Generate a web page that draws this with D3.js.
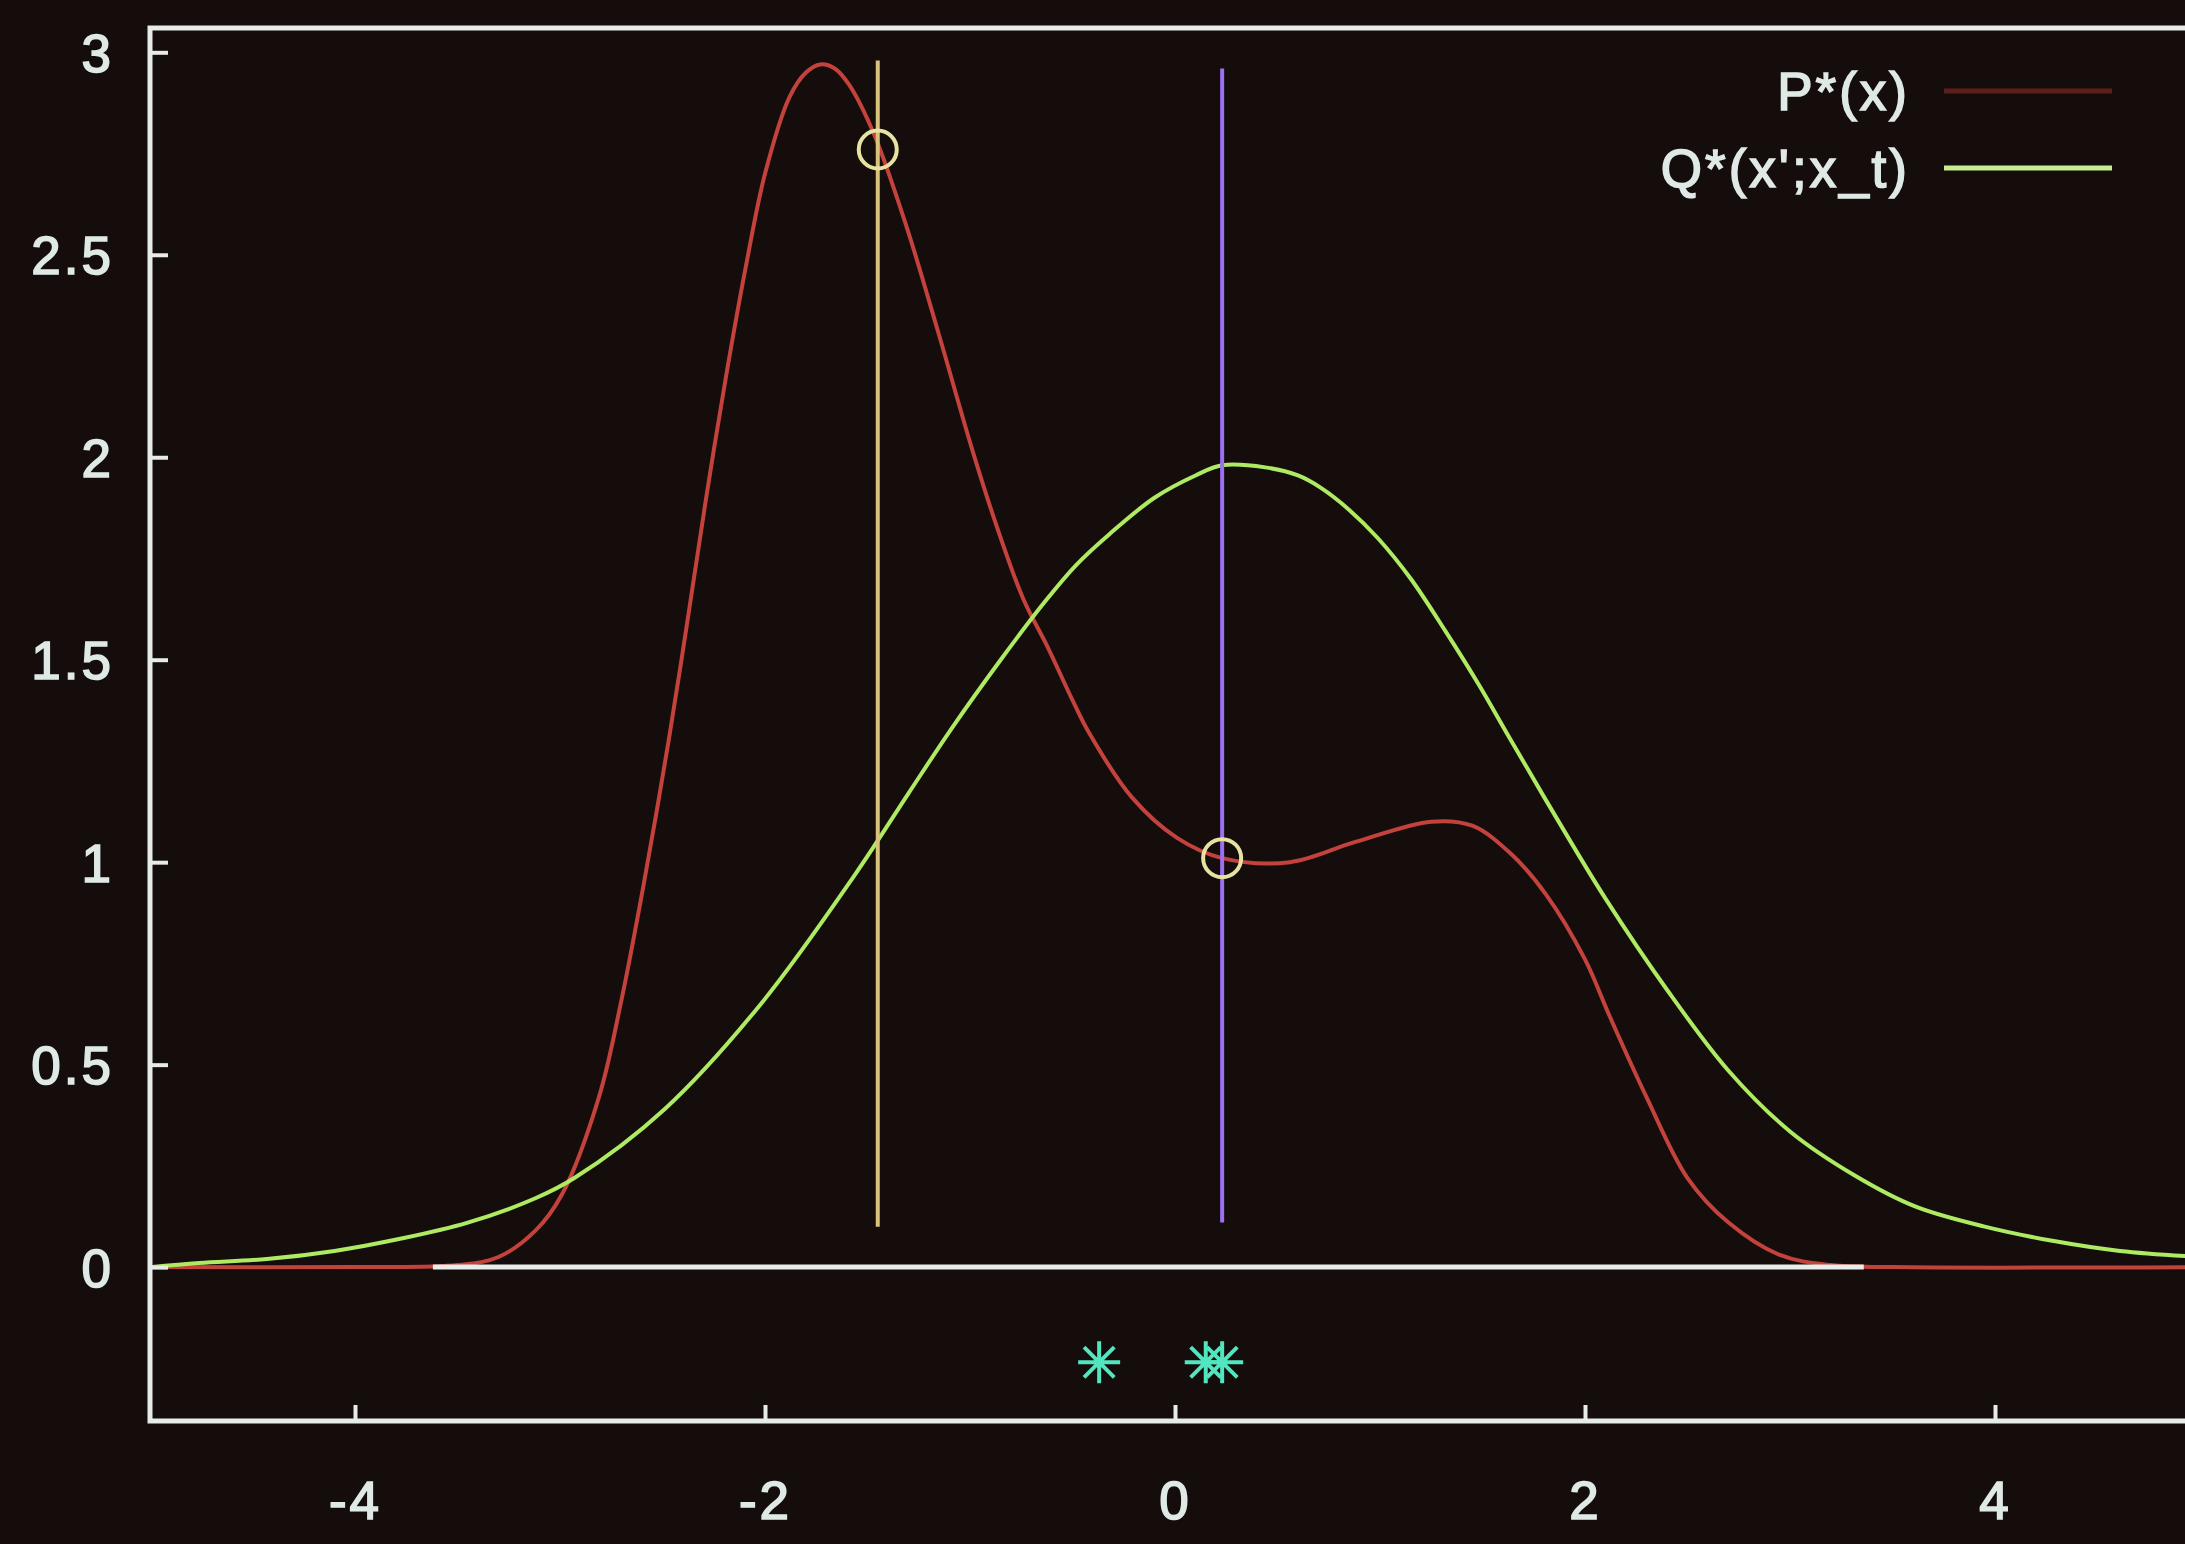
<!DOCTYPE html>
<html>
<head>
<meta charset="utf-8">
<title>P*(x) and Q*(x';x_t)</title>
<script src="https://cdn.jsdelivr.net/npm/d3@7"></script>
<style>
    html, body { margin:0; padding:0; background:#150c0c; overflow:hidden; }
    svg { display:block; }
    .lbl { font-family:"Liberation Sans", Arial, sans-serif; font-size:53px; fill:#dfe9e6;
           stroke:#dfe9e6; stroke-width:1.6px; letter-spacing:3px; }
</style>
</head>
<body>
<div id="chart"></div>
<script>
(function(){
    'use strict';

    // target density P*(x)
    var pX = [-5, -4, -3.5, -3.3, -3.12, -2.99, -2.81, -2.70, -2.59, -2.47, -2.38, -2.29, -2.19, -2.09, -2.0,
              -1.88, -1.80, -1.73, -1.66, -1.59, -1.47, -1.31, -1.15, -0.99, -0.87, -0.74, -0.62, -0.5, -0.42,
              -0.21, 0.01, 0.23, 0.56, 0.88, 1.25, 1.45, 1.64, 1.81, 2.0, 2.12, 2.3, 2.5, 2.7, 2.95, 3.2, 3.5, 5];
    var pY = [0, 0, 0.005, 0.025, 0.09, 0.18, 0.42, 0.66, 0.95, 1.30, 1.59, 1.89, 2.20, 2.48, 2.70,
              2.89, 2.95, 2.97, 2.96, 2.92, 2.80, 2.57, 2.30, 2.02, 1.83, 1.65, 1.53, 1.40, 1.32,
              1.16, 1.06, 1.01, 1.0, 1.05, 1.10, 1.09, 1.02, 0.92, 0.76, 0.62, 0.42, 0.22, 0.11, 0.03, 0.005, 0, 0];

    // proposal density Q*(x';x_t)
    var qX = [-5, -4.76, -4.43, -4.10, -3.78, -3.45, -3.12, -2.93, -2.49, -2.02, -1.56, -1.30, -1.09,
              -0.85, -0.64, -0.48, -0.32, -0.10, 0.10, 0.23, 0.44, 0.60, 0.71, 0.85, 0.99, 1.15, 1.32, 1.48,
              1.64, 1.86, 2.10, 2.4, 2.7, 3.0, 3.32, 3.61, 3.95, 4.28, 4.61, 5];
    var qY = [0, 0.01, 0.02, 0.04, 0.07, 0.11, 0.17, 0.22, 0.39, 0.65, 0.97, 1.17, 1.33,
              1.50, 1.64, 1.735, 1.81, 1.90, 1.955, 1.98, 1.975, 1.955, 1.925, 1.87, 1.80, 1.70, 1.57, 1.44,
              1.30, 1.11, 0.91, 0.685, 0.485, 0.335, 0.225, 0.15, 0.10, 0.065, 0.04, 0.025];

    // current state and proposed state (vertical lines + circles on P*)
    var markX = [-1.45, 0.23];
    var markY = [2.76, 1.01];
    var markTop = [2.98, 2.96];
    var markBottom = [0.10, 0.11];
    var markColors = ['#d9c27a', '#9c70f0'];

    // white segment along zero
    var zeroX = [-3.62, 3.36];

    // samples drawn below the axis
    var starX = [-0.37, 0.15, 0.23];
    var starY = -0.235;

    var xTicks = [-4, -2, 0, 2, 4];
    var yTicks = [0, 0.5, 1, 1.5, 2, 2.5, 3];
    var legendNames = ['P*(x)', "Q*(x';x_t)"];

    var W = 2185, H = 1544;

    var x = d3.scaleLinear().domain([-5, 5]).range([150, 2200]);
    var y = d3.scaleLinear().domain([-0.38, 3.06]).range([1421, 28]);

    var svg = d3.select('#chart').append('svg')
        .attr('width', W)
        .attr('height', H)
        .style('background', '#150c0c');

    function pts(xs, ys){
        return xs.map(function(d, i){ return [d, ys[i]]; });
    }

    var line = d3.line()
        .x(function(d){ return x(d[0]); })
        .y(function(d){ return y(d[1]); })
        .curve(d3.curveCatmullRom.alpha(0.5));

    // P*(x)
    svg.append('path')
        .datum(pts(pX, pY))
        .attr('d', line)
        .attr('fill', 'none')
        .attr('stroke', '#c4423c')
        .attr('stroke-width', 4);

    // white zero segment
    svg.append('line')
        .attr('x1', x(zeroX[0])).attr('x2', x(zeroX[1]))
        .attr('y1', y(0)).attr('y2', y(0))
        .attr('stroke', '#e9eeea')
        .attr('stroke-width', 5);

    // Q*(x';x_t)
    svg.append('path')
        .datum(pts(qX, qY))
        .attr('d', line)
        .attr('fill', 'none')
        .attr('stroke', '#aeea62')
        .attr('stroke-width', 4);

    // vertical lines at x_t and x'
    svg.selectAll('line.mark')
        .data(markX).enter()
        .append('line')
        .attr('class', 'mark')
        .attr('x1', function(d){ return x(d); })
        .attr('x2', function(d){ return x(d); })
        .attr('y1', function(d, i){ return y(markBottom[i]); })
        .attr('y2', function(d, i){ return y(markTop[i]); })
        .attr('stroke', function(d, i){ return markColors[i]; })
        .attr('stroke-width', 4);

    svg.selectAll('circle.mark')
        .data(markX).enter()
        .append('circle')
        .attr('class', 'mark')
        .attr('cx', function(d){ return x(d); })
        .attr('cy', function(d, i){ return y(markY[i]); })
        .attr('r', 19)
        .attr('fill', 'none')
        .attr('stroke', '#e6e2a2')
        .attr('stroke-width', 4);

    // gnuplot style 8-arm stars
    svg.selectAll('path.star')
        .data(starX).enter()
        .append('path')
        .attr('class', 'star')
        .attr('d', function(d){
            var cx = x(d), cy = y(starY), r = 21, k = r * 0.72, p = d3.path();
            p.moveTo(cx - r, cy); p.lineTo(cx + r, cy);
            p.moveTo(cx, cy - r); p.lineTo(cx, cy + r);
            p.moveTo(cx - k, cy - k); p.lineTo(cx + k, cy + k);
            p.moveTo(cx - k, cy + k); p.lineTo(cx + k, cy - k);
            return p.toString();
        })
        .attr('fill', 'none')
        .attr('stroke', '#52e6c0')
        .attr('stroke-width', 4);

    // frame
    var frameColor = '#e6ece8';
    svg.append('path')
        .attr('d', 'M' + x(5) + ',' + y(3.06) + 'H' + x(-5) + 'V' + y(-0.38) + 'H' + x(5))
        .attr('fill', 'none')
        .attr('stroke', frameColor)
        .attr('stroke-width', 5);

    var gy = svg.append('g')
        .attr('transform', 'translate(' + x(-5) + ',0)')
        .call(d3.axisLeft(y).tickValues(yTicks).tickSize(-18).tickPadding(36)
            .tickFormat(function(d){ return String(d); }));
    var gx = svg.append('g')
        .attr('transform', 'translate(0,' + y(-0.38) + ')')
        .call(d3.axisBottom(x).tickValues(xTicks).tickSize(-16).tickPadding(60)
            .tickFormat(function(d){ return String(d); }));

    [gy, gx].forEach(function(g){
        g.attr('font-size', null).attr('font-family', null);
        g.select('.domain').remove();
        g.selectAll('.tick line').attr('stroke', frameColor).attr('stroke-width', 4);
        g.selectAll('.tick text').attr('class', 'lbl').attr('fill', null);
    });
    gy.selectAll('.tick text').attr('dy', '0.36em');

    // legend
    var legY = [91, 168];
    var legColors = ['#5e1e1a', '#c8ec92'];
    var leg = svg.selectAll('g.leg')
        .data(legendNames).enter()
        .append('g')
        .attr('class', 'leg')
        .attr('transform', function(d, i){ return 'translate(0,' + legY[i] + ')'; });
    leg.append('text')
        .attr('class', 'lbl')
        .attr('x', 1910)
        .attr('dy', '0.36em')
        .attr('text-anchor', 'end')
        .text(function(d){ return d; });
    leg.append('line')
        .attr('x1', 1944).attr('x2', 2112)
        .attr('stroke', function(d, i){ return legColors[i]; })
        .attr('stroke-width', 5);
}());
</script>
</body>
</html>
